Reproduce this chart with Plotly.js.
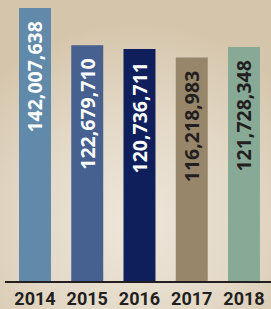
<!DOCTYPE html>
<html>
<head>
<meta charset="utf-8">
<script src="https://cdn.plot.ly/plotly-3.0.1.min.js"></script>
<style>
html,body{margin:0;padding:0;}
body{width:271px;height:309px;overflow:hidden;
background:radial-gradient(ellipse 75% 65% at 50% 72%, #ede6da 0%, #e3d8c6 55%, #d5c5ab 100%);}
#chart{width:271px;height:309px;}
</style>
</head>
<body>
<div id="chart"></div>
<script>
var years = ['2014','2015','2016','2017','2018'];
var values = [142007638, 122679710, 120736711, 116218983, 121728348];
var labels = ['142,007,638','122,679,710','120,736,711','116,218,983','121,728,348'];
var barColors = ['#6189aa','#46608f','#0f1f5c','#98866b','#88a996'];
var textColors = ['#ffffff','#ffffff','#ffffff','#231f20','#231f20'];

var trace = {
  type:'bar',
  x: years,
  y: values,
  text: labels.map(function(s){return s + '\u00a0\u00a0';}),
  textposition:'inside',
  insidetextanchor:'end',
  textangle:-90,
  constraintext:'none',
  insidetextfont:{family:'Open Sans, sans-serif', size:19.5, color:textColors, weight:700},
  marker:{color:barColors, line:{width:0}},
  hoverinfo:'none',
  cliponaxis:false
};

var layout = {
  width:271, height:309,
  margin:{l:5, r:0, t:5, b:28, pad:0},
  paper_bgcolor:'rgba(0,0,0,0)',
  plot_bgcolor:'rgba(0,0,0,0)',
  showlegend:false,
  bargap:0.388,
  uniformtext:{mode:false},
  xaxis:{
    type:'category',
    range:[-0.574, 4.517],
    showline:true, linecolor:'#231f20', linewidth:2,
    showgrid:false, zeroline:false, ticks:'',
    tickfont:{family:'Liberation Sans Narrow, Roboto, sans-serif', size:18, color:'#231f20', weight:'bold'},
    fixedrange:true
  },
  yaxis:{
    range:[0, 143570000],
    visible:false, showgrid:false, zeroline:false,
    fixedrange:true
  }
};

Plotly.newPlot('chart',[trace],layout,{displayModeBar:false, staticPlot:true});
</script>
</body>
</html>
